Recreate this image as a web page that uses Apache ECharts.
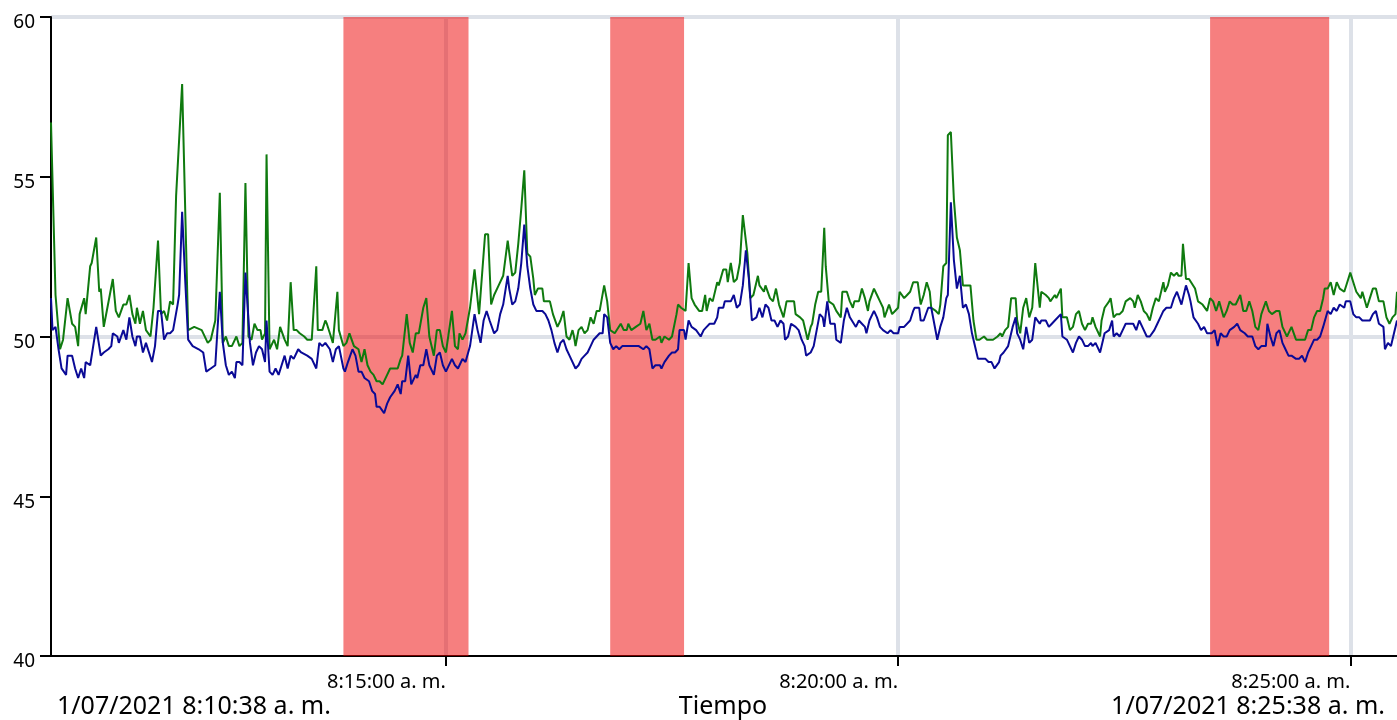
<!DOCTYPE html>
<html><head><meta charset="utf-8">
<script src="https://cdn.jsdelivr.net/npm/echarts@6/dist/echarts.min.js"></script>
<style>html,body{margin:0;padding:0;background:#fff}#c{width:1397px;height:720px}</style>
</head><body><div id="c"></div>
<script>
const dateLabel = '1/07/2021';
const startTime = '8:10:38';
const endTime = '8:25:38';
const viewEnd = '8:25:31'; // last instant visible at the right edge of the window
const tickTimes = ['8:15:00', '8:20:00', '8:25:00'];
const axisTitle = 'Tiempo';
const yMin = 40, yMax = 60, yStep = 5, yGridStep = 10;
// alarm bands, seconds after start
const alarmBands = [[194, 277], [371, 420], [769, 848]];
// [seconds after start, value]
const greenData = [[0,56.7],[3,51.3],[6,49.6],[8,49.9],[11,51.2],[14,50.4],[16,50.3],[18,49.7],[19,50.7],[22,51.2],[23,50.7],[26,52.2],[27,52.3],[30,53.1],[32,51.4],[33,51.5],[35,50.3],[37,50.8],[41,51.8],[43,50.8],[45,50.6],[48,51.0],[50,51.0],[52,51.3],[54,50.7],[56,50.4],[57,50.9],[59,50.4],[61,50.8],[63,50.2],[66,50.0],[68,50.9],[71,53.0],[73,50.7],[75,50.8],[77,50.5],[79,51.1],[81,51.0],[83,54.4],[87,57.9],[91,50.2],[95,50.3],[100,50.2],[104,49.8],[106,49.9],[109,50.5],[112,54.5],[114,49.8],[116,50.0],[118,49.7],[120,49.7],[123,50.0],[125,49.7],
[127,49.8],[129,54.8],[131,50.0],[133,49.9],[135,50.4],[137,50.2],[139,50.2],[140,49.9],[142,50.1],[143,55.7],[145,49.6],[148,49.9],[150,49.6],[152,50.3],[155,49.9],[157,49.7],[159,51.7],[161,50.2],[163,50.2],[165,50.1],[168,50.0],[170,49.9],[173,49.9],[176,52.2],[177,50.2],[180,50.2],[182,50.5],[183,50.4],[185,50.1],[187,49.8],[190,51.4],[191,50.2],[194,49.7],[196,49.8],[198,50.1],[201,49.7],[204,49.6],[206,49.2],[208,49.6],[210,49.1],[212,48.9],[214,48.8],[216,48.6],[218,48.6],[220,48.5],[223,48.8],[225,49.0],[228,49.0],[230,49.0],[232,49.3],[233,49.4],[236,50.7],[238,49.8],[240,49.5],[242,50.1],[244,50.1],[247,50.9],[249,51.2],[251,50.0],
[254,49.4],[256,50.2],[258,50.2],[260,49.7],[262,49.5],[266,50.8],[268,49.7],[270,49.6],[271,50.1],[273,49.9],[275,50.1],[278,50.9],[281,52.1],[284,50.7],[288,53.2],[290,53.2],[292,51.0],[294,51.3],[297,51.6],[300,51.9],[303,53.0],[306,51.9],[308,52.0],[310,52.9],[312,54.0],[314,55.2],[316,52.6],[318,52.5],[320,51.8],[321,51.3],[323,51.5],[326,51.5],[327,51.1],[331,51.1],[333,50.7],[336,50.3],[338,50.5],[340,50.8],[342,50.0],[344,49.9],[346,50.2],[347,50.0],[348,49.7],[350,50.2],[352,50.3],[354,50.1],[356,50.2],[358,50.6],[360,50.4],[362,50.8],[364,50.8],[367,51.6],[369,51.1],[371,50.2],[374,50.1],[378,50.4],
[380,50.2],[382,50.2],[383,50.4],[385,50.2],[388,50.3],[391,50.4],[393,50.8],[395,50.2],[397,50.4],[399,49.9],[401,49.9],[404,50.0],[405,49.8],[407,50.0],[410,49.9],[412,50.0],[415,50.7],[416,51.0],[418,50.9],[421,50.8],[423,52.3],[425,51.2],[427,51.0],[430,50.8],[432,50.8],[434,51.3],[435,50.8],[437,51.2],[439,51.1],[442,51.7],[443,51.6],[446,52.1],[448,52.1],[449,51.7],[451,52.3],[453,51.7],[455,51.8],[457,52.3],[459,53.8],[462,52.6],[464,51.2],[466,51.3],[469,51.9],[470,51.6],[473,51.4],[474,51.6],[477,51.2],[479,51.1],[481,51.5],[483,51.0],[486,50.6],[488,51.1],[490,51.1],[493,51.1],[494,50.7],[497,50.6],[499,50.5],[502,49.9],[504,50.3],
[505,50.4],[507,51.0],[509,51.4],[511,51.4],[513,53.4],[514,52.2],[516,51.1],[519,51.0],[521,50.8],[524,50.6],[525,51.4],[528,51.4],[530,51.1],[532,50.9],[533,51.1],[536,51.1],[538,51.5],[540,51.2],[542,50.8],[543,51.1],[546,51.5],[548,51.3],[550,51.1],[552,50.9],[553,50.6],[556,51.0],[558,50.7],[560,50.8],[562,50.9],[563,51.4],[566,51.2],[568,51.3],[570,51.4],[572,51.7],[575,51.7],[577,51.0],[579,51.3],[581,51.7],[583,51.4],[584,50.9],[587,50.8],[589,50.7],[590,51.0],[592,52.2],[594,52.3],[595,56.3],[597,56.4],[599,54.3],[601,53.1],[603,52.7],[605,51.6],[607,51.6],[610,51.6],[612,50.5],[614,49.9],[616,49.9],[619,50.0],[621,49.9],[623,49.9],[625,49.9],[628,50.0],[630,50.1],
[631,50.0],[633,50.2],[635,50.3],[637,51.2],[640,51.2],[641,50.5],[643,50.1],[645,50.9],[647,51.2],[649,50.6],[651,50.9],[653,52.3],[656,50.9],[657,51.4],[660,51.3],[662,51.2],[663,51.1],[666,51.3],[667,51.2],[670,51.5],[671,50.6],[674,50.6],[676,50.2],[678,50.3],[680,50.7],[682,50.8],[684,50.4],[686,50.2],[688,50.4],[690,50.4],[691,50.6],[693,50.3],[696,50.0],[697,50.5],[699,50.9],[702,51.1],[703,51.2],[705,50.6],[707,50.7],[709,50.7],[711,50.8],[713,51.1],[716,51.2],[718,51.1],[719,50.9],[721,51.3],[723,51.1],[725,50.8],[727,50.7],[729,50.5],[731,50.9],[733,51.2],[735,51.1],[738,51.7],[739,51.4],[741,51.6],[743,52.0],[745,51.9],[747,52.0],[748,51.9],[750,51.9],[751,52.9],[753,51.8],[755,51.8],[756,51.8],
[759,51.5],[761,51.1],[764,51.0],[765,51.0],[767,50.8],[769,51.2],[771,51.1],[773,50.8],[775,51.1],[778,50.6],[780,50.8],[782,51.1],[784,51.0],[786,51.0],[789,51.3],[791,50.8],[793,50.8],[795,51.1],[797,50.8],[799,50.3],[801,50.2],[803,50.7],[806,51.1],[808,50.8],[810,50.7],[813,50.8],[815,50.8],[817,50.3],[820,50.0],[822,50.2],[823,50.3],[826,49.9],[829,49.9],[832,49.9],[834,50.2],[836,50.2],[838,50.6],[840,50.8],[842,50.8],[844,51.2],[845,51.5],[847,51.5],[849,51.7],[851,51.3],[853,51.7],[855,51.5],[858,51.4],[860,51.7],[862,52.0],[864,51.7],[866,51.4],[869,51.2],[870,51.4],[873,50.9],[875,51.2],[877,51.5],[879,51.5],[881,51.1],[884,51.1],[886,50.6],[888,50.4],[890,50.6],[892,50.7],[893,51.4]];
const blueData = [[0,51.2],[1,50.2],[3,50.3],[5,49.6],[7,49.0],[10,48.8],[11,49.4],[14,49.4],[16,49.0],[18,48.7],[20,49.0],[22,48.7],[23,49.2],[26,49.1],[28,49.7],[30,50.3],[33,49.4],[35,49.5],[38,49.6],[40,49.7],[41,50.1],[44,50.0],[45,49.8],[48,50.2],[50,49.9],[52,50.6],[54,50.0],[56,49.7],[57,50.0],[59,50.0],[61,49.5],[63,49.8],[67,49.2],[69,49.7],[71,50.8],[73,50.8],[75,49.9],[77,50.1],[79,50.1],[81,50.2],[84,51.0],[85,51.3],[87,53.9],[89,51.8],[91,49.9],[94,49.7],[98,49.6],[101,49.5],[103,48.9],[106,49.0],[109,49.1],[112,51.4],[114,49.8],[116,49.1],[118,48.8],[120,48.9],[122,48.7],[123,49.2],[125,49.2],
[127,49.1],[129,52.0],[132,49.8],[134,49.1],[136,49.5],[138,49.7],[140,49.6],[142,49.2],[143,50.5],[145,48.9],[147,48.8],[149,49.0],[151,48.8],[153,49.1],[155,49.4],[157,49.0],[159,49.4],[161,49.3],[163,49.5],[164,49.6],[166,49.5],[170,49.4],[173,49.3],[176,49.0],[178,49.8],[180,49.7],[182,49.8],[183,49.8],[185,49.6],[187,49.2],[189,49.6],[191,49.7],[194,49.0],[195,48.9],[197,49.2],[200,49.6],[202,49.4],[204,48.9],[206,48.9],[208,48.7],[211,48.6],[213,48.3],[215,48.2],[216,47.8],[218,47.8],[221,47.6],[223,47.9],[225,48.1],[228,48.3],[230,48.5],[232,48.2],[233,48.6],[235,48.6],[237,49.4],[239,48.5],[242,48.8],[243,48.7],[245,49.1],[247,49.1],[249,49.6],[251,49.1],
[254,48.8],[256,49.4],[258,49.5],[260,49.1],[262,48.9],[266,49.3],[268,49.1],[270,49.0],[273,49.3],[275,49.2],[278,49.7],[281,50.7],[283,50.2],[285,49.8],[287,50.5],[289,50.8],[291,50.5],[294,50.1],[296,50.2],[298,50.7],[300,51.0],[303,51.9],[304,51.5],[306,51.0],[308,51.1],[310,51.5],[312,52.3],[314,53.5],[316,52.2],[318,51.5],[320,51.0],[322,50.8],[324,50.8],[326,50.8],[328,50.7],[330,50.5],[332,50.2],[334,49.8],[336,49.5],[338,49.8],[340,49.9],[342,49.6],[344,49.4],[348,49.0],[350,49.1],[352,49.3],[354,49.4],[356,49.5],[358,49.7],[360,49.9],[362,50.0],[364,50.1],[366,50.1],[367,50.7],[369,50.6],[371,49.8],[373,49.6],[375,49.7],[377,49.6],
[379,49.7],[381,49.7],[383,49.7],[386,49.7],[388,49.7],[390,49.7],[393,49.6],[395,49.7],[397,49.6],[399,49.0],[401,49.1],[404,49.1],[405,49.0],[407,49.2],[410,49.4],[412,49.5],[414,49.5],[416,49.6],[417,50.2],[420,50.2],[421,49.9],[423,50.5],[425,50.3],[428,50.2],[431,50.0],[433,50.2],[435,50.3],[437,50.4],[440,50.4],[442,50.6],[443,50.9],[446,50.9],[447,51.1],[449,51.1],[451,51.1],[453,51.3],[455,50.9],[457,51.0],[459,51.6],[461,52.7],[463,51.8],[465,50.5],[468,50.6],[470,50.9],[472,50.6],[474,51.0],[476,50.9],[478,50.5],[480,50.5],[482,50.3],[484,50.5],[486,50.4],[487,49.9],[489,50.0],[491,50.4],[494,50.3],[496,50.2],[498,49.9],[500,49.7],[501,49.4],[504,49.5],
[506,49.7],[508,50.2],[510,50.7],[512,50.6],[513,50.3],[515,51.1],[517,50.4],[520,50.4],[521,49.9],[524,49.8],[526,50.5],[528,50.9],[530,50.6],[531,50.6],[534,50.3],[536,50.5],[538,50.4],[540,50.3],[541,50.1],[543,50.5],[546,50.8],[548,50.6],[550,50.3],[552,50.2],[555,50.1],[557,50.2],[559,50.1],[562,50.1],[563,50.3],[566,50.3],[567,50.3],[570,50.5],[572,50.8],[573,50.9],[576,50.9],[577,50.5],[579,50.5],[582,50.9],[584,50.9],[586,50.4],[588,49.9],[590,50.3],[592,50.6],[594,51.2],[595,51.3],[597,54.2],[599,52.4],[601,51.5],[603,51.9],[605,50.9],[607,51.0],[609,50.7],[611,50.1],[613,49.7],[615,49.3],[618,49.3],[620,49.3],[622,49.2],[624,49.2],[626,49.0],[629,49.2],[630,49.4],
[632,49.5],[635,49.7],[638,50.3],[640,50.6],[641,50.1],[643,49.9],[645,49.6],[647,50.3],[649,49.8],[651,49.9],[653,50.6],[656,50.4],[657,50.5],[660,50.5],[662,50.3],[664,50.4],[666,50.5],[670,50.7],[671,50.0],[674,49.9],[676,49.7],[678,49.5],[680,49.8],[682,50.0],[684,49.9],[686,49.7],[688,49.7],[690,49.8],[691,49.7],[693,49.8],[694,49.7],[696,49.5],[698,49.9],[699,50.1],[702,50.2],[704,50.5],[705,50.0],[707,50.1],[709,50.0],[711,50.2],[713,50.4],[716,50.4],[718,50.4],[720,50.2],[722,50.5],[724,50.3],[727,50.0],[729,50.0],[732,50.2],[734,50.4],[736,50.6],[738,50.8],[740,50.9],[743,50.9],[745,51.2],[747,51.4],[748,51.4],[750,51.0],[753,51.6],[755,51.3],[756,51.1],
[758,50.6],[761,50.4],[763,50.2],[765,50.3],[767,50.1],[770,50.1],[772,50.2],[774,49.7],[776,50.1],[778,50.0],[780,50.0],[782,50.2],[785,50.3],[787,50.4],[789,50.2],[792,50.1],[794,50.0],[797,50.0],[799,49.7],[801,49.6],[803,49.7],[806,49.7],[807,50.4],[809,50.0],[811,49.7],[813,50.1],[815,50.2],[817,49.8],[819,49.6],[821,49.4],[823,49.4],[826,49.3],[828,49.3],[830,49.4],[832,49.2],[834,49.5],[836,49.7],[838,49.9],[840,49.9],[842,50.0],[844,50.3],[847,50.8],[849,50.7],[851,50.9],[853,50.8],[855,51.0],[858,50.9],[859,51.1],[862,51.1],[864,50.7],[866,50.6],[868,50.6],[870,50.5],[873,50.5],[875,50.5],[877,50.7],[879,50.8],[881,50.4],[884,50.3],[885,49.6],[887,49.8],[889,49.7],[891,50.1],[893,50.5]];

const FONT = '"Noto Sans", "DejaVu Sans", sans-serif';
function toSec(s) { const p = s.split(':').map(Number); return p[0] * 3600 + p[1] * 60 + p[2]; }
function fmt(sec) {
  const h = Math.floor(sec / 3600), m = Math.floor((sec % 3600) / 60), s = Math.round(sec % 60);
  return h + ':' + String(m).padStart(2, '0') + ':' + String(s).padStart(2, '0') + ' a. m.';
}
const t0 = toSec(startTime), t1 = toSec(endTime), tView = toSec(viewEnd);
const tickVals = tickTimes.map(toSec);

const chart = echarts.init(document.getElementById('c'), null, { renderer: 'canvas' });
chart.setOption({
  animation: false,
  backgroundColor: '#ffffff',
  grid: { left: 51, top: 17, right: 0, bottom: 64, containLabel: false },
  xAxis: {
    type: 'value', min: t0, max: tView,
    axisLine: { show: true, onZero: false, lineStyle: { color: '#000', width: 2 } },
    axisTick: { show: true, customValues: tickVals, length: 10, lineStyle: { color: '#000', width: 2 } },
    axisLabel: { customValues: tickVals, formatter: v => fmt(v), align: 'right', fontSize: 20, color: '#000', margin: 16, fontFamily: FONT },
    splitLine: { show: true, lineStyle: { color: '#dde1e8', width: 4 } }
  },
  yAxis: [
    {
      type: 'value', min: yMin, max: yMax, interval: yStep,
      axisLine: { show: true, lineStyle: { color: '#000', width: 2 } },
      axisTick: { show: true, length: 11, lineStyle: { color: '#000', width: 2 } },
      axisLabel: { fontSize: 19, color: '#000', margin: 16, fontFamily: FONT, verticalAlign: 'top', lineHeight: 12 },
      splitLine: { show: false }
    },
    {
      type: 'value', min: yMin, max: yMax, interval: yGridStep, position: 'left',
      axisLine: { show: false }, axisTick: { show: false }, axisLabel: { show: false },
      splitLine: { show: true, showMinLine: false, lineStyle: { color: '#dde1e8', width: 4 } }
    }
  ],
  series: [
    {
      type: 'line', name: 'green', showSymbol: false, symbol: 'none', z: 3,
      data: greenData.map(d => [t0 + d[0], d[1]]),
      lineStyle: { color: '#0f7a0f', width: 2 },
      markArea: {
        silent: true, z: 1,
        itemStyle: { color: 'rgba(237,0,0,0.5)' },
        data: alarmBands.map(b => [{ xAxis: t0 + b[0] }, { xAxis: t0 + b[1] }])
      }
    },
    {
      type: 'line', name: 'blue', showSymbol: false, symbol: 'none', z: 4,
      data: blueData.map(d => [t0 + d[0], d[1]]),
      lineStyle: { color: '#0a0a96', width: 2 }
    }
  ],
  graphic: [
    { type: 'text', left: 57, top: 694, style: { text: dateLabel + ' ' + fmt(t0), font: '25px ' + FONT, fill: '#000' } },
    { type: 'text', x: 723, y: 694, style: { text: axisTitle, font: '25px ' + FONT, fill: '#000', align: 'center', verticalAlign: 'top' } },
    { type: 'text', right: 12, top: 694, style: { text: dateLabel + ' ' + fmt(t1), font: '25px ' + FONT, fill: '#000' } }
  ]
});
</script></body></html>
